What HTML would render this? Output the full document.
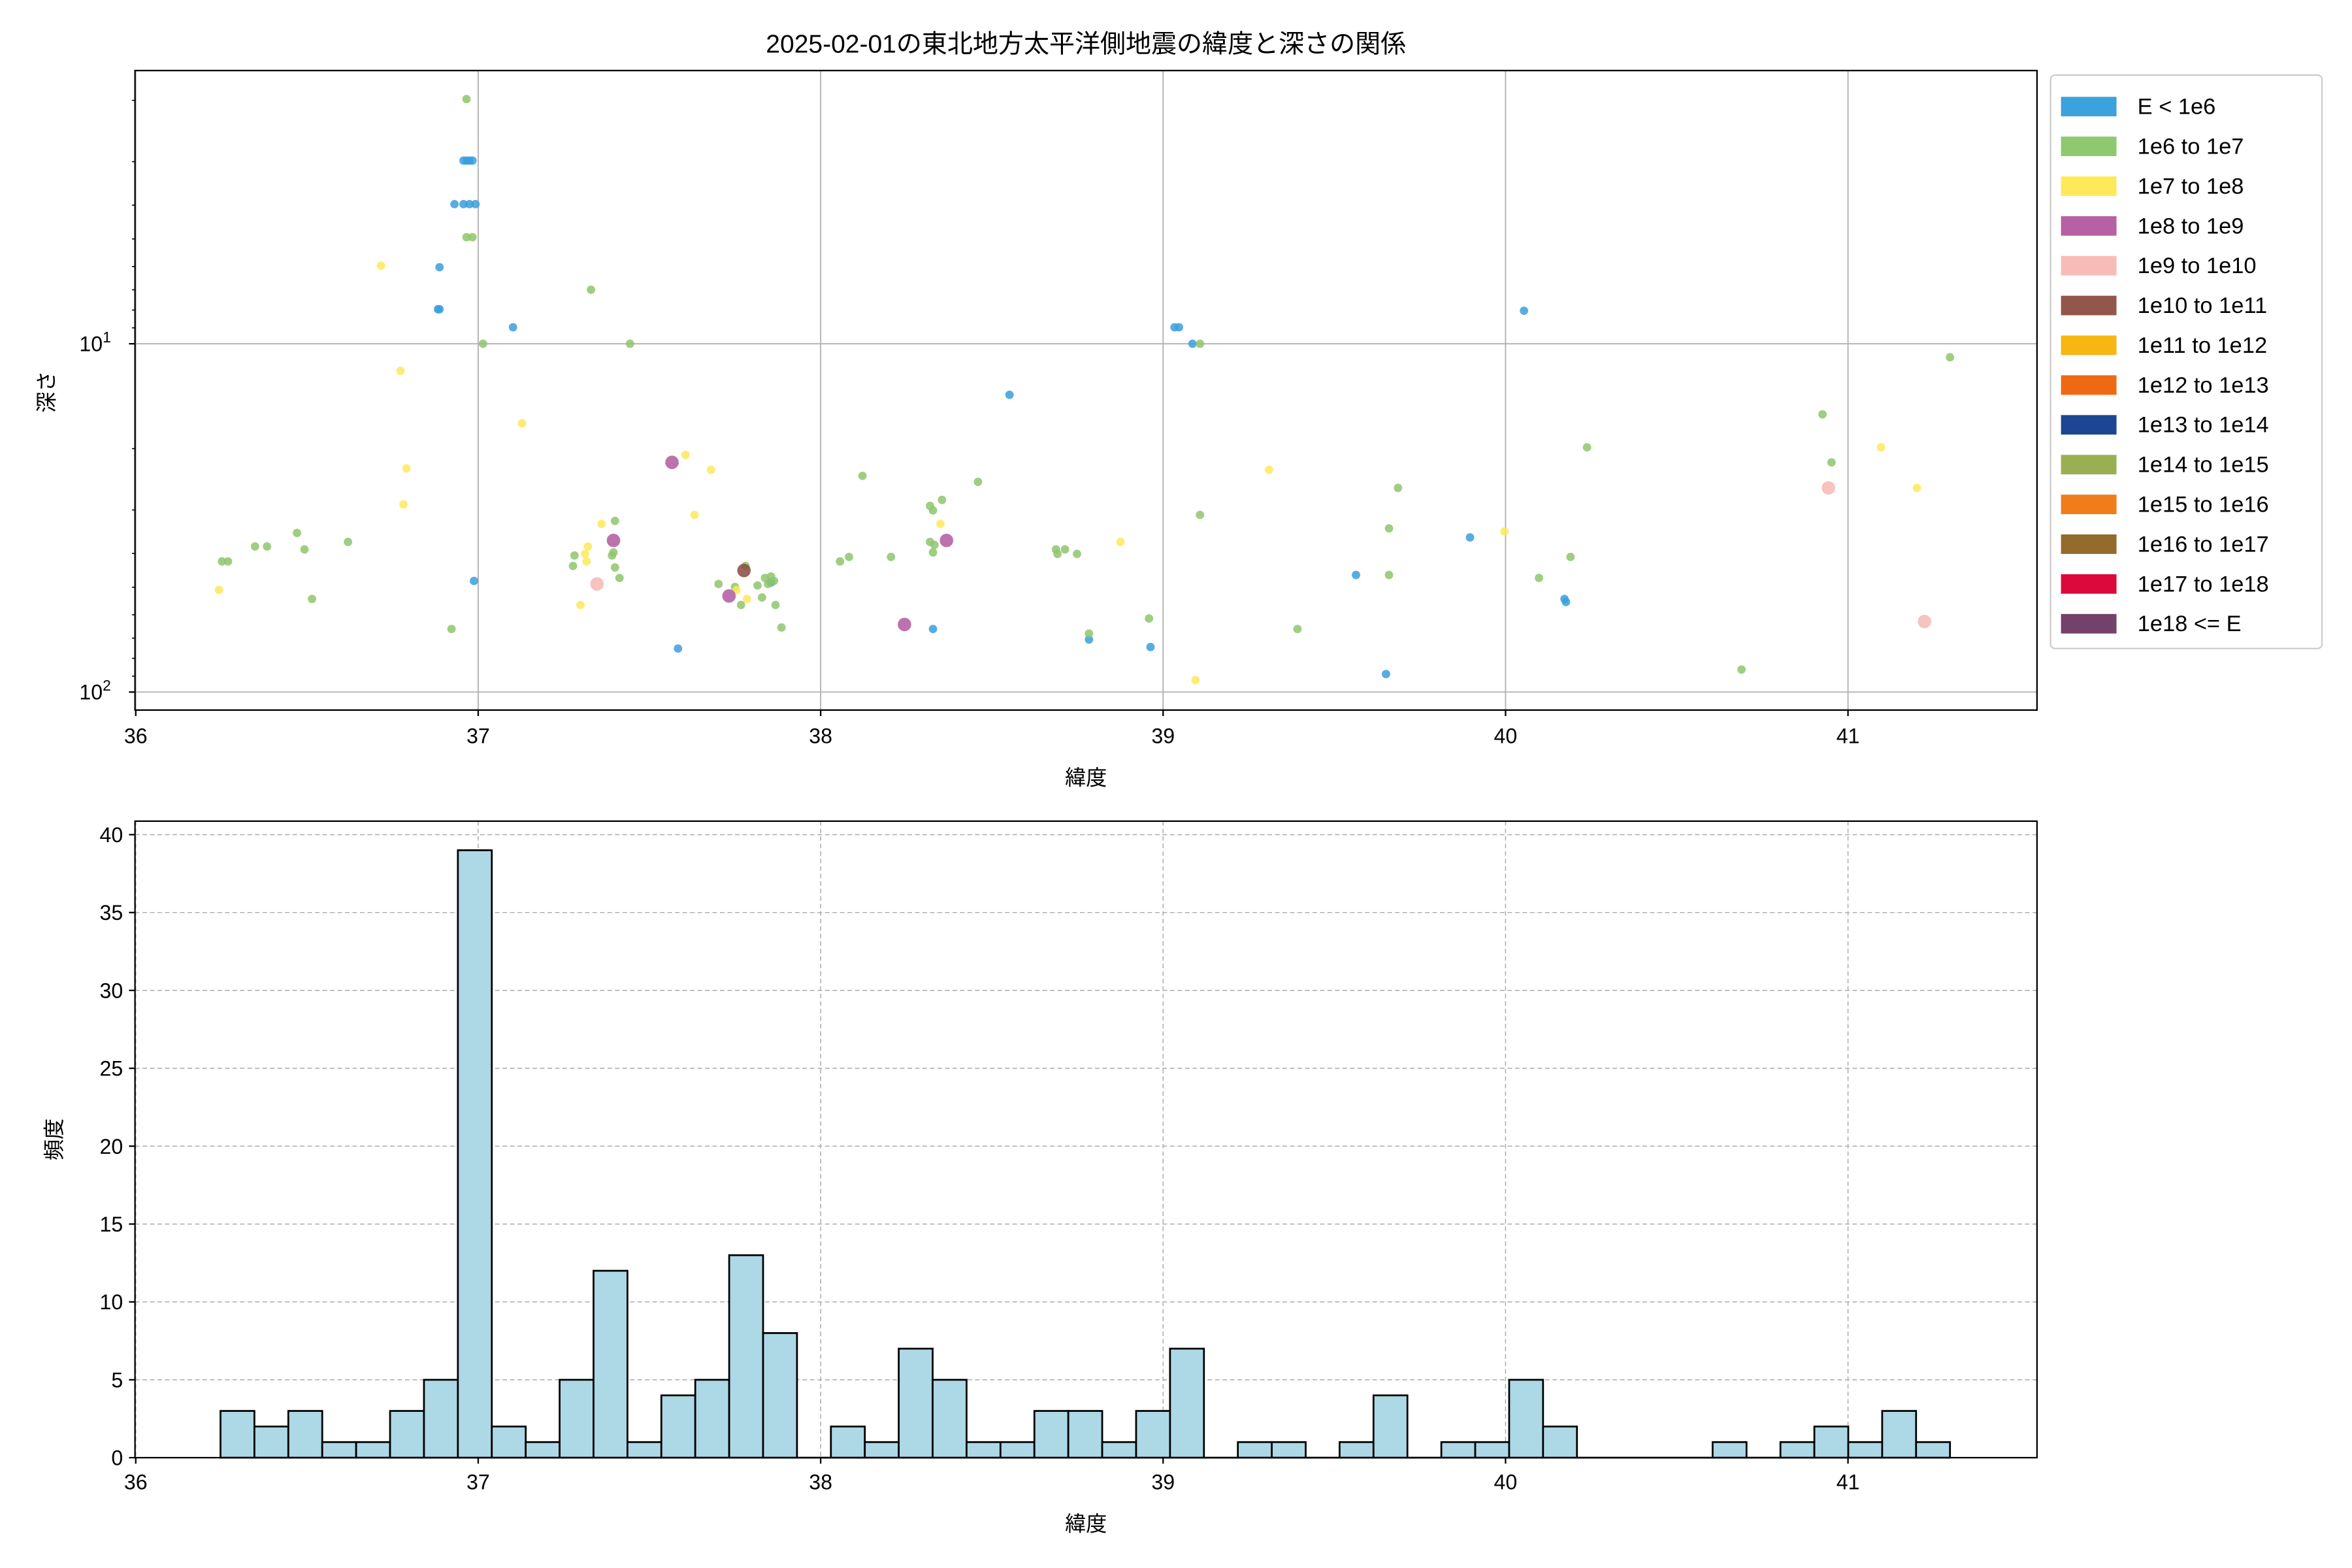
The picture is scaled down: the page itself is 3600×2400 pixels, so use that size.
<!DOCTYPE html>
<html><head><meta charset="utf-8"><style>
html,body{margin:0;padding:0;background:#fff;width:3600px;height:2400px;overflow:hidden}
svg{display:block}
text{font-family:"Liberation Sans","Noto Sans CJK JP",sans-serif;fill:#000}
</style></head><body>
<svg id="s" width="3600" height="2400" viewBox="0 0 1568 1044.5" preserveAspectRatio="none" xmlns="http://www.w3.org/2000/svg">
<rect width="1568" height="1044.5" fill="#fff"/>
<text x="724" y="35" font-size="17" text-anchor="middle">2025-02-01の東北地方太平洋側地震の緯度と深さの関係</text>
<g id="gtop"></g>
<g id="gbot"></g>
<text x="724" y="523" font-size="14" text-anchor="middle">緯度</text>
<text x="724" y="1020" font-size="14" text-anchor="middle">緯度</text>
<text transform="translate(36,261) rotate(-90)" font-size="14" text-anchor="middle">深さ</text>
<text transform="translate(41,759) rotate(-90)" font-size="14" text-anchor="middle">頻度</text>
</svg>
<script>
(function(){
var NS="http://www.w3.org/2000/svg";
function el(p,t,a,txt){var e=document.createElementNS(NS,t);for(var k in a)e.setAttribute(k,a[k]);if(txt!==undefined)e.textContent=txt;p.appendChild(e);return e;}
var gT=document.getElementById('gtop'),gB=document.getElementById('gbot');
var L=90,R=1358;
function xs(d){return 90.5+(d-36)*228.3;}
var T0=47,T1=473;
function yd(d){return 229+232*Math.log10(d/10);}
for(var d=36;d<=41;d++){el(gT,'line',{x1:xs(d),x2:xs(d),y1:T0,y2:T1,stroke:'#b0b0b0','stroke-width':0.8});}
[10,100].forEach(function(v){el(gT,'line',{x1:L,x2:R,y1:yd(v),y2:yd(v),stroke:'#b0b0b0','stroke-width':0.8});});
var C={b:'#3a9fdc',g:'#8ec66c',y:'#fde95a',p:'#b05a9f',k:'#f6b9b4',r:'#8a4a40'};
var pts={
b:[[309,107],[311,107],[313,107],[315,107],[303,136],[309,136],[313,136],[317,136],[293,178],[292,206],[293,206],[342,218],[316,387],[1016,207],[673,263],[783,218],[786,218],[795,229],[980,358],[904,383],[1043,399],[1044,401],[726,426],[767,431],[452,432],[622,419],[924,449],[514,388]],
g:[[311,66],[311,158],[315,158],[322,229],[394,193],[420,229],[800,229],[148,374],[152,374],[170,364],[178,364],[198,355],[203,366],[232,361],[208,399],[301,419],[382,377],[383,370],[408,370],[409,368],[410,347],[410,378],[413,385],[479,389],[490,391],[494,403],[497,377],[505,390],[508,398],[510,385],[514,384],[516,387],[517,403],[521,418],[512,389],[560,374],[575,317],[566,371],[594,371],[620,337],[622,340],[628,333],[652,321],[620,361],[623,363],[622,368],[704,366],[705,369],[710,366],[718,369],[726,422],[766,412],[800,343],[865,419],[926,352],[932,325],[926,383],[1026,385],[1047,371],[1058,298],[1161,446],[1215,276],[1221,308],[1300,238]],
y:[[254,177],[267,247],[271,312],[269,336],[348,282],[146,393],[387,403],[390,369],[392,364],[391,374],[401,349],[457,303],[474,313],[463,343],[491,393],[498,399],[627,349],[747,361],[797,453],[846,313],[1003,354],[1254,298],[1278,325]],
p:[[448,308],[409,360],[486,397],[603,416],[631,360]],
k:[[398,389],[1219,325],[1283,414]],
r:[[496,380]]};
for(var c in pts){var r=(c=='b'||c=='g'||c=='y')?2.8:4.5;pts[c].forEach(function(p){el(gT,'circle',{cx:p[0],cy:p[1],r:r,fill:C[c],'fill-opacity':0.85});});}
el(gT,'rect',{x:L,y:T0,width:R-L,height:T1-T0,fill:'none',stroke:'#000','stroke-width':1});
for(var d=36;d<=41;d++){el(gT,'line',{x1:xs(d),x2:xs(d),y1:T1,y2:T1+4,stroke:'#000'});el(gT,'text',{x:xs(d),y:T1+22,'font-size':14,'text-anchor':'middle'},String(d));}
[[10,'1'],[100,'2']].forEach(function(a){var y=yd(a[0]);el(gT,'line',{x1:L-4,x2:L,y1:y,y2:y,stroke:'#000'});var t=el(gT,'text',{x:L-16,y:y+5,'font-size':14,'text-anchor':'end'},'10');el(t,'tspan',{'font-size':10,dy:-6},a[1]);});
for(var d=2;d<100;d+=(d<10?1:10)){if(d==10)continue;var y=yd(d);if(y<T0)continue;el(gT,'line',{x1:L-2,x2:L,y1:y,y2:y,stroke:'#000','stroke-width':0.7});}
el(gT,'rect',{x:1367,y:50,width:181,height:382,fill:'#fff',stroke:'#ccc',rx:3});
var leg=[['E < 1e6','#3ca2dc'],['1e6 to 1e7','#8fc96f'],['1e7 to 1e8','#fde95a'],['1e8 to 1e9','#b561a4'],['1e9 to 1e10','#f8bcb8'],['1e10 to 1e11','#93564b'],['1e11 to 1e12','#f7b611'],['1e12 to 1e13','#ef6913'],['1e13 to 1e14','#1c4692'],['1e14 to 1e15','#9aaf52'],['1e15 to 1e16','#f07d1a'],['1e16 to 1e17','#936b2b'],['1e17 to 1e18','#dc0a3c'],['1e18 <= E','#74416a']];
leg.forEach(function(l,i){var y=71+i*26.5;el(gT,'rect',{x:1374,y:y-6.5,width:37,height:13,fill:l[1]});el(gT,'text',{x:1425,y:y+5,'font-size':15},l[0]);});
var B0=547,B1=971;function yb(v){return 971-v*10.375;}
for(var d=36;d<=41;d++)el(gB,'line',{x1:xs(d),x2:xs(d),y1:B0,y2:B1,stroke:'#b0b0b0','stroke-width':0.7,'stroke-dasharray':'3,2'});
for(var v=5;v<=40;v+=5)el(gB,'line',{x1:L,x2:R,y1:yb(v),y2:yb(v),stroke:'#b0b0b0','stroke-width':0.7,'stroke-dasharray':'3,2'});
var h=[3,2,3,1,1,3,5,39,2,1,5,12,1,4,5,13,8,0,2,1,7,5,1,1,3,3,1,3,7,0,1,1,0,1,4,0,1,1,5,2,0,0,0,0,1,0,1,2,1,3,1];
var w=1153/51;
h.forEach(function(v,i){var x=147+i*w;if(v>0)el(gB,'rect',{x:x,y:yb(v),width:w,height:v*10.375,fill:'#add8e6',stroke:'#000','stroke-width':1.2});else el(gB,'line',{x1:x,x2:x+w,y1:B1,y2:B1,stroke:'#000','stroke-width':1.2});});
el(gB,'rect',{x:L,y:B0,width:R-L,height:B1-B0,fill:'none',stroke:'#000','stroke-width':1});
for(var d=36;d<=41;d++){el(gB,'line',{x1:xs(d),x2:xs(d),y1:B1,y2:B1+4,stroke:'#000'});el(gB,'text',{x:xs(d),y:B1+21,'font-size':14,'text-anchor':'middle'},String(d));}
for(var v=0;v<=40;v+=5){var y=yb(v);el(gB,'line',{x1:L-4,x2:L,y1:y,y2:y,stroke:'#000'});el(gB,'text',{x:L-8,y:y+5,'font-size':14,'text-anchor':'end'},String(v));}
})();
</script>
</body></html>
